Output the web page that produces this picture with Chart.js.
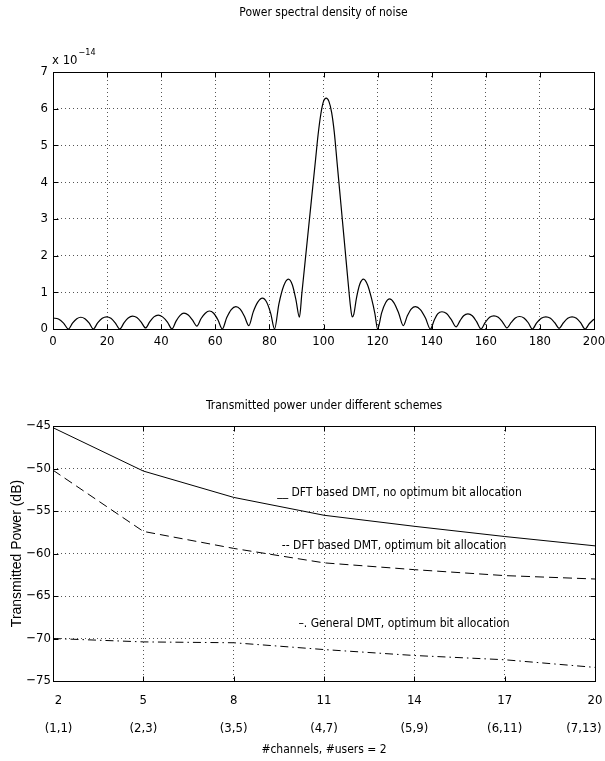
<!DOCTYPE html>
<html>
<head>
<meta charset="utf-8">
<script src="https://cdn.jsdelivr.net/npm/chart.js@4.4.1/dist/chart.umd.min.js"></script>
<style>
  html, body { margin: 0; padding: 0; background: #fff; }
  #wrap { position: relative; width: 605px; height: 761px; }
  #psd { position: absolute; left: 0; top: 0; }
  #power { position: absolute; left: 0; top: 380px; }
</style>
</head>
<body>
<div id="wrap">
  <canvas id="psd" width="605" height="380"></canvas>
  <canvas id="power" width="605" height="381"></canvas>
</div>
<script>
// ---- top plot: noise PSD (values in units of 1e-14)
const psdX = [
  0, 2.0, 3.9, 5.7, 7.2, 8.8, 10.3, 11.8, 13.4, 14.9,
  16.5, 18.2, 19.8, 21.4, 23.0, 24.7, 26.3, 27.8, 29.4, 31.0, 32.6, 34.2,
  35.8, 37.3, 38.9, 40.5, 42.3, 44.0, 45.5, 47.0, 48.4, 50.0, 51.6, 53.2,
  54.7, 56.3, 57.8, 59.4, 61.0, 62.6, 64.2, 65.9, 67.6, 69.2, 70.8, 72.4,
  74.0, 75.7, 77.4, 79.0, 80.5, 81.9, 83.5, 85.3, 87.0, 88.5, 89.8, 91.1,
  92, 93, 94, 95, 96, 97, 98, 99, 100, 101, 102, 103, 104, 105, 106, 107, 108, 109, 110, 110.6,
  111.2, 112.2, 113.4, 114.8, 116.3, 117.8, 119.0, 120.0,
  121.5, 123.0, 124.4, 126.0, 127.8, 129.5, 131.0, 132.5, 134.0, 135.8, 137.7, 139.5,
  141.0, 142.2, 143.8, 145.5, 147.2, 149.0, 150.5, 151.8, 153.4, 155.0, 156.6, 158.2,
  159.8, 161.4, 163.0, 164.6, 166.2, 167.8, 169.4, 170.9, 172.5, 174.1, 175.7, 177.2,
  178.8, 180.5, 182.2, 183.9, 185.5, 187.1, 188.7, 190.3, 191.9, 193.5, 195.1, 196.7,
  198.3, 200
];
const psdY = [
  0.30, 0.27, 0.16, 0, 0.16, 0.28, 0.32, 0.28, 0.16, 0,
  0.165, 0.29, 0.33, 0.29, 0.165, 0, 0.175, 0.30, 0.35, 0.31, 0.19, 0.03,
  0.20, 0.33, 0.38, 0.33, 0.19, 0, 0.215, 0.37, 0.43, 0.38, 0.24, 0.08,
  0.28, 0.43, 0.49, 0.43, 0.245, 0, 0.305, 0.53, 0.61, 0.54, 0.34, 0.09,
  0.46, 0.73, 0.84, 0.73, 0.42, 0, 0.68, 1.18, 1.36, 1.20, 0.80, 0.32,
  0.97, 1.69, 2.41, 3.13, 3.85, 4.57, 5.29, 5.85, 6.20, 6.29, 6.20, 5.90, 5.35, 4.55, 3.75, 2.95, 2.15, 1.35, 0.60, 0.33,
  0.40, 0.85, 1.22, 1.36, 1.20, 0.82, 0.42, 0,
  0.44, 0.72, 0.82, 0.72, 0.43, 0.09, 0.36, 0.55, 0.61, 0.53, 0.30, 0,
  0.25, 0.41, 0.47, 0.42, 0.26, 0.06, 0.23, 0.36, 0.41, 0.36, 0.20, 0,
  0.18, 0.32, 0.36, 0.32, 0.19, 0.03, 0.18, 0.30, 0.34, 0.30, 0.17, 0,
  0.165, 0.29, 0.33, 0.29, 0.17, 0.02, 0.17, 0.29, 0.33, 0.29, 0.165, 0,
  0.15, 0.27
];

// ---- bottom plot: transmitted power (dB)
const channels = [2, 5, 8, 11, 14, 17, 20];
const channelUsers = ['(1,1)', '(2,3)', '(3,5)', '(4,7)', '(5,9)', '(6,11)', '(7,13)'];
const dftNoOpt = [-45.2, -50.3, -53.4, -55.5, -56.8, -58.0, -59.1];
const dftOpt = [-50.2, -57.4, -59.4, -61.1, -61.9, -62.6, -63.0];
const generalDmt = [-70.0, -70.4, -70.5, -71.3, -72.0, -72.5, -73.4];

const narrow = "'Liberation Sans Narrow', 'Arial Narrow', 'DejaVu Sans Condensed', sans-serif";
const gridColor = '#555';

// box round the plot area plus inward tick marks on all four sides (matlab look)
const boxTicks = {
  id: 'boxTicks',
  afterDraw(chart) {
    const { ctx, chartArea: a, scales } = chart;
    const l = Math.round(a.left) + 0.5, r = Math.round(a.right) + 0.5;
    const t = Math.round(a.top) + 0.5, b = Math.round(a.bottom) + 0.5;
    ctx.save();
    ctx.strokeStyle = '#000';
    ctx.lineWidth = 1;
    ctx.setLineDash([]);
    ctx.strokeRect(l, t, r - l, b - t);
    ctx.beginPath();
    scales.x.ticks.forEach(tk => {
      const px = Math.round(scales.x.getPixelForValue(tk.value)) + 0.5;
      ctx.moveTo(px, b); ctx.lineTo(px, b - 5);
      ctx.moveTo(px, t); ctx.lineTo(px, t + 5);
    });
    scales.y.ticks.forEach(tk => {
      const py = Math.round(scales.y.getPixelForValue(tk.value)) + 0.5;
      ctx.moveTo(l, py); ctx.lineTo(l + 5, py);
      ctx.moveTo(r, py); ctx.lineTo(r - 5, py);
    });
    ctx.stroke();
    ctx.restore();
  }
};

// plot title centred over the plot area
const plotTitle = {
  id: 'plotTitle',
  afterDraw(chart, args, opts) {
    const { ctx, chartArea: a } = chart;
    ctx.save();
    ctx.fillStyle = '#000';
    ctx.font = '12px ' + narrow;
    ctx.textAlign = 'center';
    ctx.textBaseline = 'middle';
    ctx.fillText(opts.text, (a.left + a.right) / 2, opts.y);
    ctx.restore();
  }
};

// "x 10^-14" exponent label above the top y axis
const exponentLabel = {
  id: 'exponentLabel',
  afterDraw(chart) {
    const { ctx, chartArea: a } = chart;
    ctx.save();
    ctx.fillStyle = '#000';
    ctx.textBaseline = 'alphabetic';
    ctx.font = '13px ' + narrow;
    ctx.fillText('x 10', a.left - 1, a.top - 8);
    const w = ctx.measureText('x 10').width;
    ctx.font = '9px ' + narrow;
    ctx.fillText('\u221214', a.left + w, a.top - 17);
    ctx.restore();
  }
};

// curve labels inside the lower plot, anchored in data coordinates
const curveLabels = {
  id: 'curveLabels',
  afterDraw(chart) {
    const { ctx, scales: { x, y } } = chart;
    const items = [
      { text: '__ DFT based DMT, no optimum bit allocation', at: [9.45, -52.9] },
      { text: '-- DFT based DMT, optimum bit allocation', at: [9.6, -59.1] },
      { text: '\u2013. General DMT, optimum bit allocation', at: [10.15, -68.3] }
    ];
    ctx.save();
    ctx.fillStyle = '#000';
    ctx.font = '12px ' + narrow;
    ctx.textBaseline = 'middle';
    items.forEach(it => ctx.fillText(it.text, x.getPixelForValue(it.at[0]), y.getPixelForValue(it.at[1])));
    ctx.restore();
  }
};

// keep the plot box fixed: no room reserved for overhanging edge labels
const noEdgePad = s => {
  s.paddingLeft = 0; s.paddingRight = 0; s.paddingTop = 0; s.paddingBottom = 0;
};

// two-row x labels; the outer ones are nudged inward like the original
const channelLabel = v => {
  const i = channels.indexOf(v);
  let top = String(v), bottom = channelUsers[i];
  if (i === 0) { top = '   ' + top; bottom = '   ' + bottom; }
  if (i === channels.length - 1) { bottom = bottom + '      '; }
  return [top, bottom];
};

const tickFont = { family: narrow, size: 13 };
const minus = v => String(v).replace('-', '\u2212');

new Chart(document.getElementById('psd'), {
  type: 'line',
  data: {
    datasets: [{
      data: psdX.map((x, i) => ({ x: x, y: psdY[i] })),
      borderColor: '#000',
      borderWidth: 1.2,
      pointRadius: 0,
      cubicInterpolationMode: 'monotone',
      fill: false
    }]
  },
  options: {
    responsive: false,
    animation: false,
    layout: { padding: { left: 0, right: 11, top: 72, bottom: 0 } },
    plugins: {
      legend: { display: false },
      tooltip: { enabled: false },
      title: { display: false },
      plotTitle: { text: 'Power spectral density of noise', y: 13 }
    },
    scales: {
      x: {
        type: 'linear', min: 0, max: 200,
        afterFit: s => { s.height = 51; noEdgePad(s); },
        ticks: { stepSize: 20, color: '#000', font: tickFont, padding: 5, maxRotation: 0 },
        grid: { color: gridColor, drawTicks: false },
        border: { display: false, dash: [1, 3] }
      },
      y: {
        min: 0, max: 7,
        afterFit: s => { s.width = 53; noEdgePad(s); },
        ticks: { stepSize: 1, color: '#000', font: tickFont, padding: 5 },
        grid: { color: gridColor, drawTicks: false },
        border: { display: false, dash: [1, 3] }
      }
    }
  },
  plugins: [boxTicks, plotTitle, exponentLabel]
});

const lineSet = (data, dash) => ({
  data: data,
  borderColor: '#000',
  borderWidth: 1,
  borderDash: dash,
  pointRadius: 0,
  tension: 0,
  fill: false
});

new Chart(document.getElementById('power'), {
  type: 'line',
  data: {
    datasets: [
      lineSet(channels.map((c, i) => ({ x: c, y: dftNoOpt[i] })), []),
      lineSet(channels.map((c, i) => ({ x: c, y: dftOpt[i] })), [9, 5]),
      lineSet(channels.map((c, i) => ({ x: c, y: generalDmt[i] })), [8, 4, 1.5, 4])
    ]
  },
  options: {
    responsive: false,
    animation: false,
    layout: { padding: { left: 0, right: 10, top: 46, bottom: 0 } },
    plugins: {
      legend: { display: false },
      tooltip: { enabled: false },
      title: { display: false },
      plotTitle: { text: 'Transmitted power under different schemes', y: 26 }
    },
    scales: {
      x: {
        type: 'linear', min: 2, max: 20,
        afterFit: s => { s.height = 80; noEdgePad(s); },
        afterBuildTicks: s => { s.ticks = channels.map(v => ({ value: v })); },
        ticks: {
          color: '#000', font: { family: narrow, size: 13, lineHeight: 2.2 }, padding: 5, maxRotation: 0,
          callback: channelLabel
        },
        title: {
          display: true, text: '#channels, #users = 2', color: '#000',
          font: { family: narrow, size: 12 }, padding: { top: 0, bottom: 4 }
        },
        grid: { color: gridColor, drawTicks: false },
        border: { display: false, dash: [1, 3] }
      },
      y: {
        min: -75, max: -45,
        afterFit: s => { s.width = 53; noEdgePad(s); },
        ticks: { stepSize: 5, color: '#000', font: tickFont, padding: 2, callback: minus },
        title: {
          display: true, text: 'Transmitted Power (dB)', color: '#000',
          font: { family: "'Liberation Sans', Arial, sans-serif", size: 14 }, padding: { top: 9, bottom: 0 }
        },
        grid: { color: gridColor, drawTicks: false },
        border: { display: false, dash: [1, 3] }
      }
    }
  },
  plugins: [boxTicks, plotTitle, curveLabels]
});
</script>
</body>
</html>
